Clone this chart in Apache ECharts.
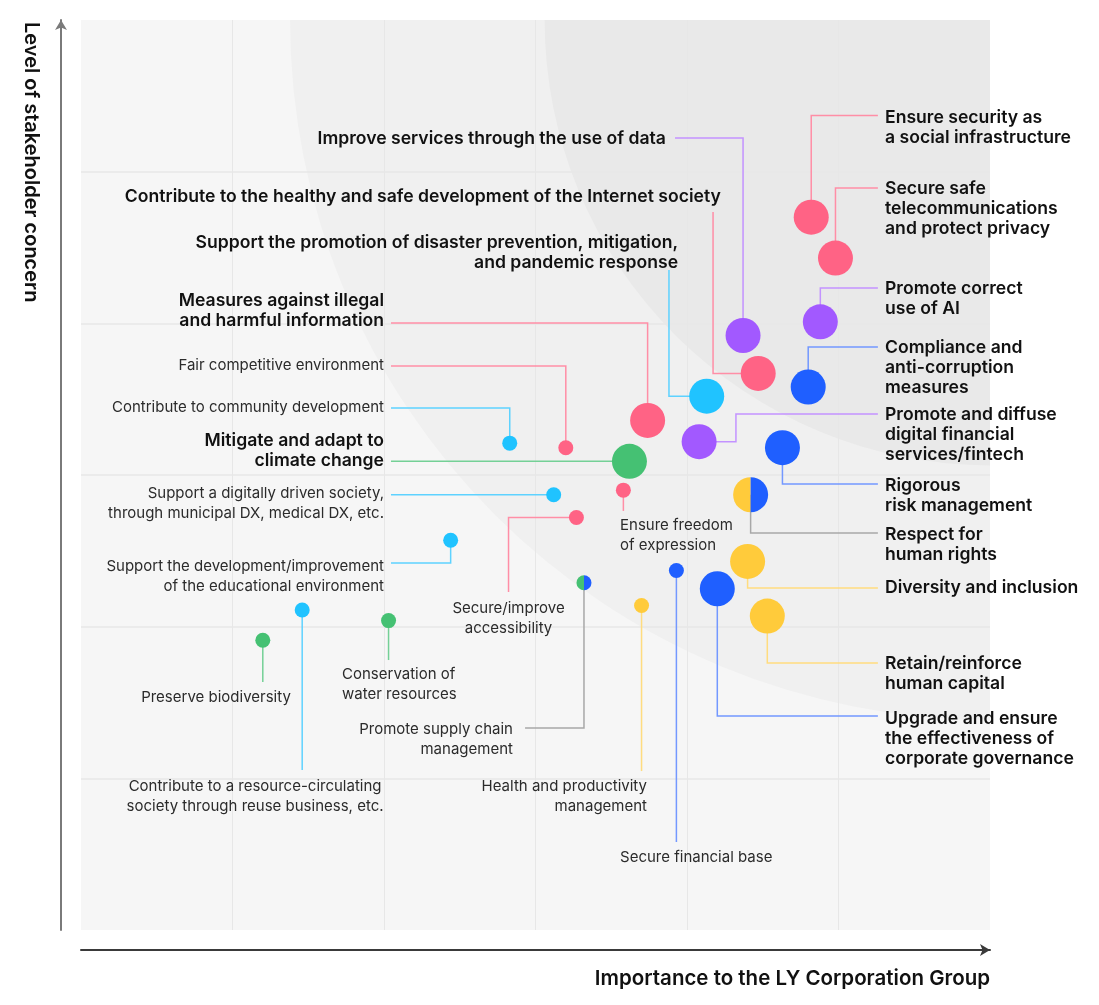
<!DOCTYPE html>
<html>
<head>
<meta charset="utf-8">
<script src="https://cdn.jsdelivr.net/npm/echarts/dist/echarts.min.js"></script>
<style>
html,body{margin:0;padding:0;background:#ffffff;}
#chart{width:1099px;height:1005px;}
</style>
</head>
<body>
<div id="chart"></div>
<script>
// ---------------- DATA ----------------
const topics = [
  "Ensure security as\na social infrastructure",
  "Secure safe\ntelecommunications\nand protect privacy",
  "Promote correct\nuse of AI",
  "Compliance and\nanti-corruption\nmeasures",
  "Promote and diffuse\ndigital financial\nservices/fintech",
  "Rigorous\nrisk management",
  "Respect for\nhuman rights",
  "Diversity and inclusion",
  "Retain/reinforce\nhuman capital",
  "Upgrade and ensure\nthe effectiveness of\ncorporate governance",
  "Improve services through the use of data",
  "Contribute to the healthy and safe development of the Internet society",
  "Support the promotion of disaster prevention, mitigation,\nand pandemic response",
  "Measures against illegal\nand harmful information",
  "Fair competitive environment",
  "Contribute to community development",
  "Mitigate and adapt to\nclimate change",
  "Support a digitally driven society,\nthrough municipal DX, medical DX, etc.",
  "Ensure freedom\nof expression",
  "Secure/improve\naccessibility",
  "Support the development/improvement\nof the educational environment",
  "Promote supply chain\nmanagement",
  "Health and productivity\nmanagement",
  "Secure financial base",
  "Contribute to a resource-circulating\nsociety through reuse business, etc.",
  "Conservation of\nwater resources",
  "Preserve biodiversity"
];
// Importance to the LY Corporation Group (x)
const importance = [4.82, 4.98, 4.88, 4.80, 4.08, 4.63, 4.42, 4.40, 4.53, 4.20,
                    4.37, 4.47, 4.13, 3.74, 3.20, 2.83, 3.62, 3.12, 3.58, 3.27,
                    2.44, 3.32, 3.70, 3.93, 1.46, 2.03, 1.20];
// Level of stakeholder concern (y)
const concern = [4.70, 4.43, 4.01, 3.58, 3.22, 3.18, 2.87, 2.43, 2.07, 2.25,
                 3.92, 3.67, 3.52, 3.36, 3.18, 3.21, 3.09, 2.87, 2.90, 2.72,
                 2.57, 2.29, 2.14, 2.37, 2.11, 2.04, 1.91];
// theme colour group(s) of each topic
const theme = ["pink","pink","purple","blue","purple","blue","yellow/blue","yellow","yellow","blue",
               "purple","pink","cyan","pink","pink","cyan","green","cyan","pink","pink",
               "cyan","green/blue","yellow","blue","cyan","green","green"];
// materiality priority: major topics are large dots with bold labels
const priority = ["major","major","major","major","major","major","major","major","major","major",
                  "major","major","major","major","other","other","major","other","other","other",
                  "other","other","other","other","other","other","other"];
// background zones (radius from the top-right corner, in axis units)
const zoneRadii = [4.62, 2.94];
const axisTicks = [0, 1, 2, 3, 4, 5, 6];

// ---------------- LAYOUT (label anchors and leader elbows, axis units) ----------------
const labelAt = [
  [5.307,5.354],[5.307,4.886],[5.307,4.226],[5.307,3.837],[5.307,3.396],
  [5.307,2.927],[5.307,2.604],[5.307,2.255],[5.307,1.754],[5.307,1.391],
  [3.861,5.215],[4.224,4.833],[3.941,4.530],[2.0,4.147],[2.0,3.719],
  [2.0,3.442],[2.0,3.224],[2.0,2.881],[3.558,2.664],[2.822,2.123],
  [2.0,2.400],[2.851,1.319],[3.736,0.943],[3.558,0.475],[1.149,0.943],
  [1.723,1.688],[0.891,1.536]
];
const labelAlign = ["left","left","left","left","left","left","left","left","left","left",
                    "right","right","right","right","right","right","right","right","left","center",
                    "right","right","right","left","center","left","center"];
const leaders = [
  [[4.82,5.370],[5.26,5.370]],
  [[4.98,4.892],[5.26,4.892]],
  [[4.88,4.233],[5.26,4.233]],
  [[4.80,3.844],[5.26,3.844]],
  [[4.323,3.22],[4.323,3.402],[5.26,3.402]],
  [[4.63,2.941],[5.26,2.941]],
  [[4.42,2.618],[5.26,2.618]],
  [[4.40,2.255],[5.26,2.255]],
  [[4.53,1.760],[5.26,1.760]],
  [[4.20,1.411],[5.26,1.411]],
  [[4.37,5.222],[3.921,5.222]],
  [[4.172,3.67],[4.172,4.734]],
  [[3.881,3.52],[3.881,4.352]],
  [[3.74,4.002],[2.046,4.002]],
  [[3.20,3.719],[2.046,3.719]],
  [[2.83,3.442],[2.046,3.442]],
  [[2.046,3.09]],
  [[2.046,2.87]],
  [[3.58,2.763]],
  [[2.822,2.72],[2.822,2.229]],
  [[2.44,2.420],[2.046,2.420]],
  [[3.32,1.332],[2.931,1.332]],
  [[3.70,1.048]],
  [[3.93,0.580]],
  [[1.46,1.055]],
  [[2.03,1.780]],
  [[1.20,1.635]]
];

// ---------------- STYLE ----------------
const dotColor = {pink:"#ff6385", purple:"#a259ff", blue:"#1f5fff", cyan:"#20c3ff", green:"#45c173", yellow:"#ffcb3b"};
const lineColor = {pink:"#ff8ea6", purple:"#c393ff", blue:"#7398ff", cyan:"#5ed2ff", green:"#74d096", yellow:"#ffdc7f", mixed:"#a8a8a8"};
const zoneColor = ["#f0f0f0", "#e9e9e9"];
const FONT = "Inter, 'Noto Sans', sans-serif";

const pointData = topics.map((t, i) => [importance[i], concern[i]]);

const chart = echarts.init(document.getElementById('chart'), null, {renderer: 'canvas'});

const option = {
  animation: false,
  backgroundColor: '#ffffff',
  grid: {left: 81, top: 20, width: 909, height: 910, show: true, backgroundColor: '#f6f6f6', borderWidth: 0, outerBoundsMode: 'none', containLabel: false},
  xAxis: {
    type: 'value', min: axisTicks[0], max: axisTicks[axisTicks.length - 1], interval: 1, z: 3,
    offset: 20,
    axisLine: {show: true, onZero: false, lineStyle: {color: '#3a3a3a', width: 2}, symbol: ['none', 'arrow'], symbolSize: [9, 10]},
    axisTick: {show: false}, axisLabel: {show: false},
    splitLine: {show: true, showMinLine: false, showMaxLine: false, lineStyle: {color: '#e7e7e7', width: 1}}
  },
  yAxis: {
    type: 'value', min: axisTicks[0], max: axisTicks[axisTicks.length - 1], interval: 1, z: 3,
    offset: 20,
    axisLine: {show: true, onZero: false, lineStyle: {color: '#7a7a7a', width: 2}, symbol: ['none', 'arrow'], symbolSize: [9, 10]},
    axisTick: {show: false}, axisLabel: {show: false},
    splitLine: {show: true, showMinLine: false, showMaxLine: false, lineStyle: {color: '#e7e7e7', width: 1.5}}
  },
  graphic: [
    {type: 'text', right: 109, top: 968, z: 10,
     style: {text: 'Importance to the LY Corporation Group', font: "600 20.5px " + FONT, fill: '#111'}},
    {type: 'text', x: 31, y: 22, rotation: -Math.PI / 2, z: 10,
     style: {text: 'Level of stakeholder concern', font: "600 20px " + FONT, fill: '#111', align: 'left', verticalAlign: 'middle'}}
  ],
  series: [
    {
      // background zones
      type: 'custom', z: 1, silent: true,
      data: [[axisTicks[axisTicks.length - 1], axisTicks[axisTicks.length - 1]]],
      encode: {x: 0, y: 1},
      renderItem: function (params, api) {
        const c = api.coord([api.value(0), api.value(1)]);
        const cs = params.coordSys;
        return {
          type: 'group',
          clipPath: {type: 'rect', shape: {x: cs.x, y: cs.y, width: cs.width, height: cs.height}},
          children: zoneRadii.map((r, k) => ({
            type: 'circle',
            shape: {cx: c[0], cy: c[1], r: api.size([r, 0])[0]},
            style: {fill: zoneColor[k]}
          }))
        };
      }
    },
    {
      // leaders and labels
      type: 'custom', z: 4, silent: true,
      data: pointData, encode: {x: 0, y: 1},
      renderItem: function (params, api) {
        const i = params.dataIndex;
        const p0 = api.coord([api.value(0), api.value(1)]);
        const pts = [p0].concat(leaders[i].map(q => api.coord(q)));
        const lp = api.coord(labelAt[i]);
        const major = priority[i] === 'major';
        const lh = 20;
        const th = theme[i].indexOf('/') >= 0 ? 'mixed' : theme[i];
        return {
          type: 'group',
          children: [
            {type: 'polyline', shape: {points: pts}, style: {stroke: lineColor[th], lineWidth: 1.5, fill: null}},
            {type: 'text', x: lp[0], y: lp[1] - lh / 2,
             style: {text: topics[i], align: labelAlign[i], verticalAlign: 'top', lineHeight: lh,
                     font: (major ? "600 17.6px " : "400 15px ") + FONT,
                     fill: major ? '#111111' : '#2b2b2b'}}
          ]
        };
      }
    },
    {
      // dots
      type: 'custom', z: 5, silent: true,
      data: pointData, encode: {x: 0, y: 1},
      renderItem: function (params, api) {
        const i = params.dataIndex;
        const p = api.coord([api.value(0), api.value(1)]);
        const r = priority[i] === 'major' ? 17.5 : 7.5;
        const parts = theme[i].split('/');
        if (parts.length === 1) {
          return {type: 'circle', shape: {cx: p[0], cy: p[1], r: r}, style: {fill: dotColor[parts[0]]}};
        }
        return {
          type: 'group',
          children: [
            {type: 'sector', shape: {cx: p[0], cy: p[1], r0: 0, r: r, startAngle: Math.PI / 2, endAngle: Math.PI * 1.5, clockwise: true},
             style: {fill: dotColor[parts[0]]}},
            {type: 'sector', shape: {cx: p[0], cy: p[1], r0: 0, r: r, startAngle: -Math.PI / 2, endAngle: Math.PI / 2, clockwise: true},
             style: {fill: dotColor[parts[1]]}}
          ]
        };
      }
    }
  ]
};
chart.setOption(option);
</script>
</body>
</html>
